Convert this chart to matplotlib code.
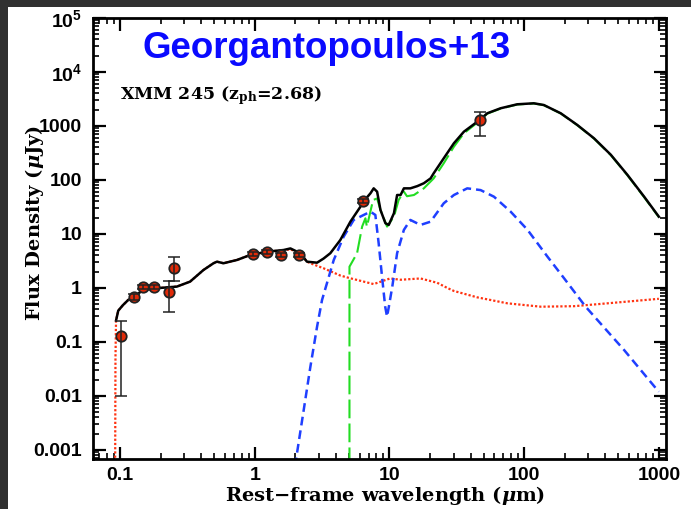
import matplotlib
matplotlib.use("Agg")
import matplotlib.pyplot as plt
from matplotlib.patches import Rectangle
from matplotlib.ticker import LogLocator, NullFormatter, FixedLocator, FixedFormatter
import numpy as np

plt.rcParams['mathtext.fontset'] = 'custom'
plt.rcParams['mathtext.rm'] = 'Liberation Sans:bold'
plt.rcParams['mathtext.it'] = 'DejaVu Serif:italic:bold'
plt.rcParams['mathtext.bf'] = 'DejaVu Serif:bold'

# photometry
obs_wave = [0.1017, 0.127, 0.148, 0.179, 0.231, 0.252, 0.975, 1.24, 1.57, 2.14, 6.4, 46.7]
obs_flux = [0.13, 0.68, 1.04, 1.05, 0.84, 2.35, 4.27, 4.6, 4.1, 4.1, 40.7, 1290]
obs_err_lo = [0.12, 0.08, 0.1, 0.1, 0.48, 1.0, 0.35, 0.4, 0.35, 0.35, 4.0, 640]
obs_err_hi = [0.115, 0.08, 0.1, 0.1, 0.51, 1.45, 0.35, 0.4, 0.35, 0.35, 4.0, 530]

# total model (black)
total_wave = [0.0934, 0.097, 0.105, 0.115, 0.127, 0.148, 0.1875, 0.264, 0.331, 0.416,
              0.494, 0.524, 0.586, 0.738, 0.926, 1.23, 1.64, 1.84, 2.18, 2.44, 2.9,
              3.24, 3.64, 4.32, 5.13, 6.09, 6.4, 7.23, 7.64, 8.1, 8.58, 9.34, 9.88,
              10.8, 11.4, 12.1, 12.8, 14.3, 16.1, 18, 20.2, 21.3, 25.3, 30.1, 35.7,
              46.7, 53.2, 66.8, 88.9, 118, 140, 187, 248, 330, 440, 585, 778, 1000]
total_flux = [0.25, 0.38, 0.48, 0.6, 0.68, 0.92, 0.99, 1.06, 1.31, 2.15,
              2.87, 3.07, 2.87, 3.3, 4.08, 4.7, 5.05, 5.4, 4.4, 3.07, 2.94,
              3.5, 4.4, 7.74, 16.9, 32, 39.7, 56.7, 70, 60.7, 27.8, 15.8, 14.7,
              24.2, 52.7, 52.7, 70, 70, 77, 87, 107, 133, 252, 479, 784,
              1291, 1718, 2127, 2523, 2632, 2446, 1718, 1045, 592, 293, 124, 49, 20.9]

# starburst component (green long dashes)
sb_wave = [5.05, 5.05, 5.75, 6.27, 6.63, 6.8, 7.08, 7.56, 8.1, 8.58, 9.6, 10.8, 11.7,
           12.8, 13.5, 15.2, 18, 21.3, 25.3, 30.1, 35.7, 46.7, 53.2, 66.8, 88.9,
           118, 140, 187, 248, 330, 440, 585, 778, 1000]
sb_flux = [0.0005, 2.48, 4.4, 13.7, 19.5, 13.7, 21, 42.6, 45.5, 27.8, 13.7, 21, 42.6,
           60.7, 50, 52.7, 70, 107, 204, 414, 731, 1250, 1690, 2100, 2500,
           2610, 2430, 1705, 1035, 585, 289, 122, 48, 20.5]

# AGN torus component (blue dashes)
agn_wave = [2.0, 2.04, 2.31, 2.59, 2.9, 3.16, 3.86, 4.57, 5.43, 6.44, 7.23, 7.86, 8.32,
            8.81, 9.3, 9.6, 9.9, 10.5, 11.4, 12.8, 14.3, 17, 20.2, 25.3, 30.1, 37.8,
            47.5, 59.7, 79.4, 106, 149, 198, 286, 552, 950, 1000]
agn_flux = [0.0005, 0.00075, 0.0055, 0.035, 0.19, 0.6, 3.3, 8.9, 18.2, 22.5, 25.9, 22.5,
            6.7, 1.62, 0.45, 0.294, 0.45, 1.06, 4.4, 11.9, 18.2, 14.7, 16.9, 37, 52.7,
            70, 65, 49, 25.9, 11.9, 3.8, 1.51, 0.45, 0.071, 0.0139, 0.012]

# host galaxy component (red dots)
host_wave = [0.092, 0.0925, 0.0934, 0.097, 0.105, 0.115, 0.127, 0.148, 0.1875, 0.264,
             0.331, 0.416, 0.494, 0.524, 0.586, 0.738, 0.926, 1.23, 1.64, 1.84, 2.18,
             2.44, 2.59, 3.25, 4.32, 5.13, 7.64, 10.1, 12.1, 17, 22.6, 26.9, 30.1,
             44.9, 75, 133, 235, 417, 1000]
host_flux = [0.0005, 0.05, 0.25, 0.38, 0.48, 0.6, 0.68, 0.92, 0.99, 1.06,
             1.31, 2.15, 2.87, 3.07, 2.87, 3.3, 4.08, 4.7, 5.0, 5.2, 4.3,
             3.07, 2.87, 2.31, 1.7, 1.51, 1.18, 1.5, 1.42, 1.5, 1.25, 1.0, 0.88,
             0.67, 0.52, 0.45, 0.46, 0.52, 0.63]

y_ticks = [1e-3, 1e-2, 1e-1, 1, 10, 100, 1000, 1e4, 1e5]
y_labels = ['0.001', '0.01', '0.1', '1', '10', '100', '1000', r'$\mathrm{10^4}$', r'$\mathrm{10^5}$']
x_ticks = [0.1, 1, 10, 100, 1000]
x_labels = ['0.1', '1', '10', '100', '1000']

fig = plt.figure(figsize=(6.91, 5.09), dpi=100)
fig.patch.set_facecolor('#303030')
fig.add_artist(Rectangle((8 / 691, 0), 1, 502 / 509, transform=fig.transFigure,
                         facecolor='white', edgecolor='none', zorder=0))
ax = fig.add_axes([93 / 691, 50 / 509, 573 / 691, 441 / 509])
ax.set_xscale('log')
ax.set_yscale('log')

ax.plot(host_wave, host_flux, color='#ff3311', lw=1.6, dashes=(1, 0.9), zorder=2)
ax.plot(agn_wave, agn_flux, color='#1f3fff', lw=1.8, dashes=(3.5, 2), zorder=2)
ax.plot(sb_wave, sb_flux, color='#22dd22', lw=1.5, dashes=(9, 2.5), zorder=2)
ax.plot(total_wave, total_flux, color='black', lw=1.8, zorder=3)

ax.plot(obs_wave, obs_flux, 'o', ms=7.5, mfc='#e02a08', mec='#222222', mew=1.3, zorder=4)
ax.errorbar(obs_wave, obs_flux, yerr=[obs_err_lo, obs_err_hi], fmt='none',
            ecolor='#222222', elinewidth=1.1, capsize=4, capthick=1.1, zorder=5)

ax.set_xlim(0.063, 1130)
ax.set_ylim(6.8e-4, 1e5)

ax.xaxis.set_major_locator(FixedLocator(x_ticks))
ax.xaxis.set_major_formatter(FixedFormatter(x_labels))
ax.yaxis.set_major_locator(FixedLocator(y_ticks))
ax.yaxis.set_major_formatter(FixedFormatter(y_labels))
ax.xaxis.set_minor_locator(LogLocator(base=10, subs=np.arange(2, 10), numticks=20))
ax.yaxis.set_minor_locator(LogLocator(base=10, subs=np.arange(2, 10), numticks=20))
ax.xaxis.set_minor_formatter(NullFormatter())
ax.yaxis.set_minor_formatter(NullFormatter())

ax.tick_params(which='both', direction='in', top=True, right=True)
ax.tick_params(which='major', length=9, width=1.6)
ax.tick_params(which='minor', length=4.5, width=1.2)
ax.tick_params(axis='y', which='major', pad=8)
ax.tick_params(axis='x', which='major', pad=6)
for lab in ax.get_xticklabels() + ax.get_yticklabels():
    lab.set_fontfamily('Liberation Sans')
    lab.set_fontweight('bold')
    lab.set_fontsize(14)
for sp in ax.spines.values():
    sp.set_linewidth(2)

ax.set_xlabel(r'Rest−frame wavelength ($\mu$m)', fontfamily='DejaVu Serif',
              fontweight='bold', fontsize=14)
ax.set_ylabel(r'Flux Density ($\mu$Jy)', fontfamily='DejaVu Serif',
              fontweight='bold', fontsize=14)
ax.xaxis.set_label_coords(0.51, -0.057)
ax.yaxis.set_label_coords(-0.082, 0.535)

ax.text(0.087, 0.93, 'Georgantopoulos+13', transform=ax.transAxes, color='#0a0aff',
        fontfamily='Liberation Sans', fontweight='bold', fontsize=26.5, va='center')
ax.text(0.047, 0.825, r'XMM 245 (z$_{\mathbf{ph}}$=2.68)', transform=ax.transAxes,
        fontfamily='DejaVu Serif', fontweight='bold', fontsize=12.5, va='center')

fig.savefig('out.png', dpi=100, facecolor=fig.get_facecolor())
